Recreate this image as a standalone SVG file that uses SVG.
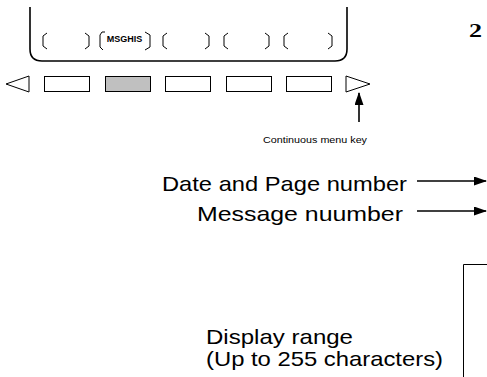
<svg xmlns="http://www.w3.org/2000/svg" width="487" height="377" viewBox="0 0 487 377">
<style>
.frame{fill:none;stroke:#000;stroke-width:1.6}
.br{fill:none;stroke:#000;stroke-width:1}
.key{fill:#fff;stroke:#000;stroke-width:1}
.key.on{fill:#c0c0c0}
.tri{fill:#fff;stroke:#000;stroke-width:1}
.lbl{font-family:"Liberation Sans",Arial,sans-serif;fill:#000}
.big{font-size:21px}
.conn{stroke:#000;stroke-width:1.6;fill:none}
</style>
<defs>
<marker id="ah" markerWidth="13" markerHeight="9" refX="12" refY="4.5" orient="auto" markerUnits="userSpaceOnUse">
<path d="M0,0 L13,4.5 L0,9 Z" fill="#000"/>
</marker>
</defs>
<g id="screen">
<path class="frame" d="M30,7 V49 Q30,61 42,61 H335 Q347,61 347,49 V7"/>
</g>
<g id="softkey-labels">
<path class="br" d="M47,33 L43,36 V46 L47,49 M85,33 L89,36 V46 L85,49"/>
<path class="br" d="M105,32 H102 L100,35 V47 L103,50 M145,32 L150,35 V47 L145,50"/>
<path class="br" d="M167,33 L163,36 V46 L167,49 M205,33 L209,36 V46 L205,49"/>
<path class="br" d="M228,33 L224,36 V46 L228,49 M265,33 L269,36 V46 L265,49"/>
<path class="br" d="M288,33 L284,36 V46 L288,49 M328,33 L332,36 V46 L328,49"/>
<text class="lbl" x="124.5" y="41.5" font-size="9" font-weight="bold" text-anchor="middle">MSGHIS</text>
</g>
<g id="softkeys">
<path class="tri" d="M29,76 V92 L6,84 Z"/>
<rect class="key" x="44.5" y="76.5" width="45" height="15"/>
<rect class="key on" x="105.5" y="76.5" width="45" height="15"/>
<rect class="key" x="165.5" y="76.5" width="45" height="15"/>
<rect class="key" x="226.5" y="76.5" width="45" height="15"/>
<rect class="key" x="286.5" y="76.5" width="45" height="15"/>
<path class="tri" d="M346,76 V92 L370,84 Z"/>
</g>
<g id="continuous-menu-key-label">
<text class="lbl" x="263" y="143" font-size="9.5" textLength="104" lengthAdjust="spacingAndGlyphs">Continuous menu key</text>
</g>
<g id="step-number">
<text x="469" y="37" font-family="'Liberation Serif','Times New Roman',serif" font-weight="bold" font-size="18" textLength="13" lengthAdjust="spacingAndGlyphs">2</text>
</g>
<g id="date-page-label">
<text class="lbl big" x="162" y="191" textLength="245" lengthAdjust="spacingAndGlyphs">Date and Page number</text>
</g>
<g id="message-number-label">
<text class="lbl big" x="197" y="221" textLength="206" lengthAdjust="spacingAndGlyphs">Message nuumber</text>
</g>
<g id="display-range-label">
<text class="lbl big" x="206" y="344" textLength="147" lengthAdjust="spacingAndGlyphs">Display range</text>
<text class="lbl big" x="206" y="366" textLength="237" lengthAdjust="spacingAndGlyphs">(Up to 255 characters)</text>
</g>
<g id="screen-area">
<path d="M487,264.5 H463.5 V377" fill="none" stroke="#000" stroke-width="1"/>
</g>
<g id="connectors">
<line class="conn" x1="359" y1="122" x2="359" y2="93" marker-end="url(#ah)"/>
<line class="conn" x1="417" y1="181" x2="486" y2="181" marker-end="url(#ah)"/>
<line class="conn" x1="417" y1="211" x2="486" y2="211" marker-end="url(#ah)"/>
</g>
</svg>
